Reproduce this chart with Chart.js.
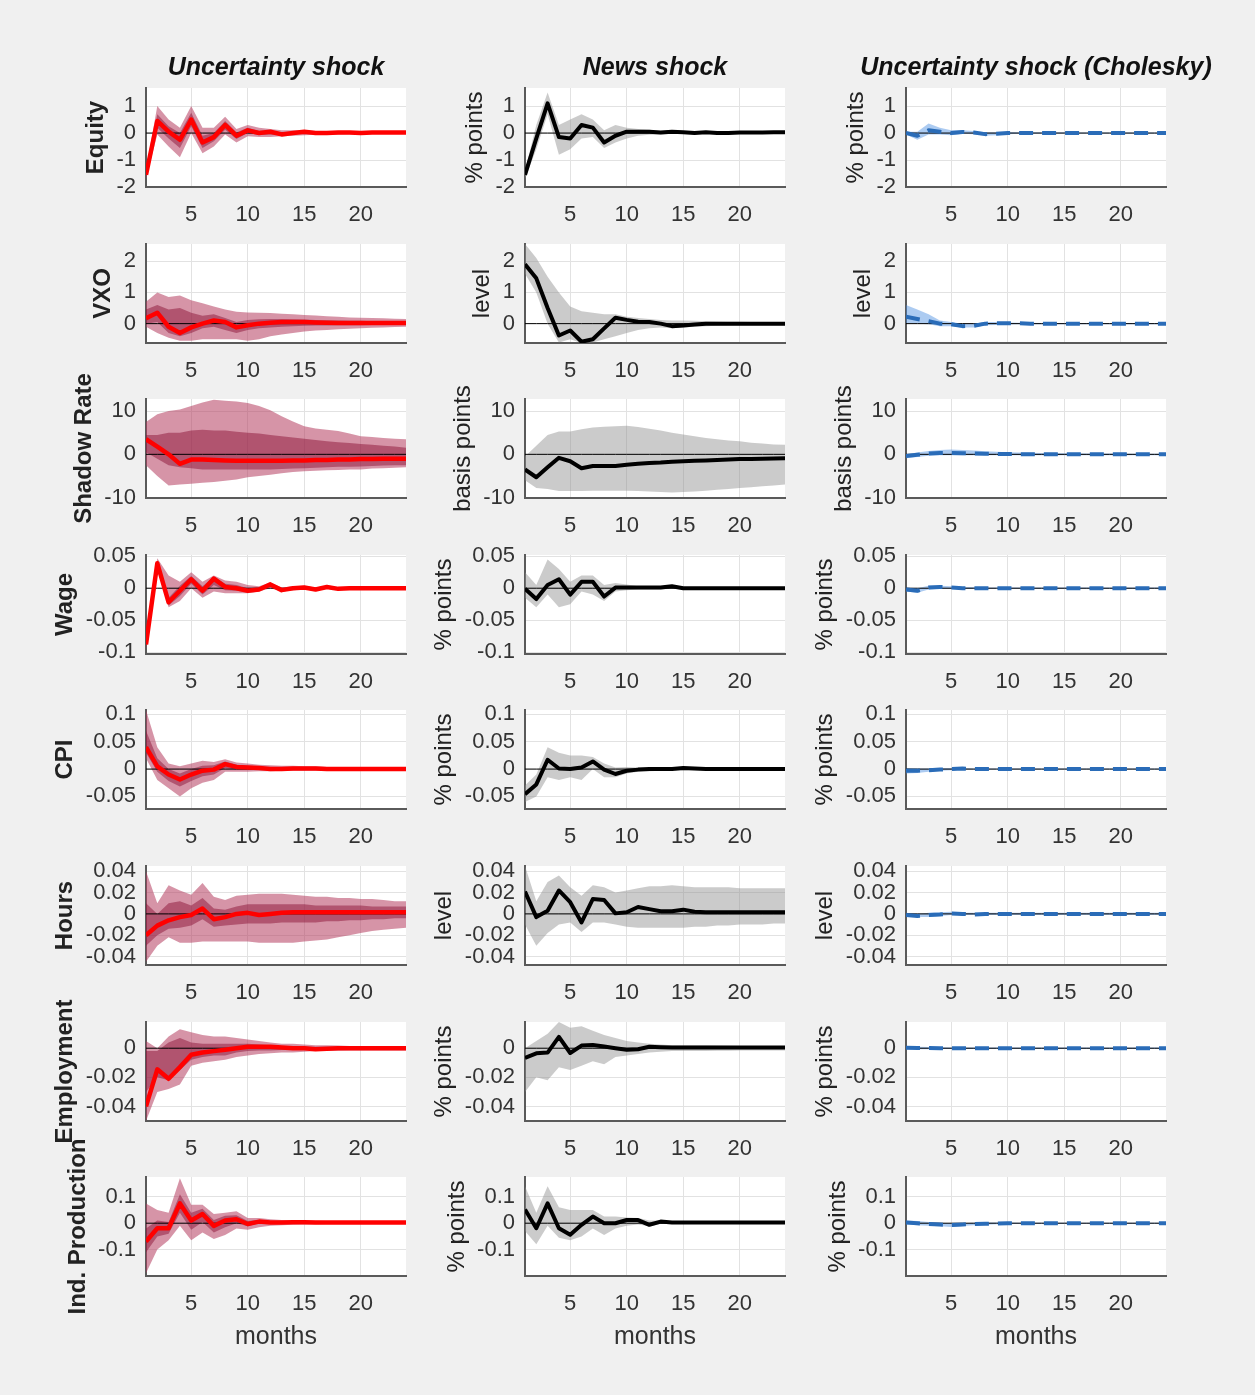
<!DOCTYPE html>
<html>
<head>
<meta charset="utf-8">
<script src="https://cdn.jsdelivr.net/npm/chart.js@4.4.0/dist/chart.umd.min.js"></script>
<style>
  html, body { margin: 0; padding: 0; }
  body { width: 1255px; height: 1395px; background: #f0f0f0; position: relative; overflow: hidden; }
  canvas { position: absolute; }
</style>
</head>
<body>
<script>
// horizon, months after the shock
const months = [1, 2, 3, 4, 5, 6, 7, 8, 9, 10, 11, 12, 13, 14, 15, 16, 17, 18, 19, 20, 21, 22, 23, 24];
const xTicks = [5, 10, 15, 20];

const rowNames = ['Equity', 'VXO', 'Shadow Rate', 'Wage', 'CPI', 'Hours', 'Employment', 'Ind. Production'];
const rowUnits = ['% points', 'level', 'basis points', '% points', '% points', 'level', '% points', '% points'];
const colTitles = ['Uncertainty shock', 'News shock', 'Uncertainty shock (Cholesky)'];
const yLimits = [[-2, 1.67], [-0.62, 2.55], [-10.1, 12.8], [-0.103, 0.052], [-0.073, 0.108], [-0.048, 0.045], [-0.05, 0.018], [-0.2, 0.175]];
const yTicks = [[-2, -1, 0, 1], [0, 1, 2], [-10, 0, 10], [-0.1, -0.05, 0, 0.05], [-0.05, 0, 0.05, 0.1], [-0.04, -0.02, 0, 0.02, 0.04], [-0.04, -0.02, 0], [-0.1, 0, 0.1]];

// --- Equity
const eqU_mid = [-1.55, 0.45, 0.05, -0.25, 0.5, -0.35, -0.15, 0.3, -0.1, 0.1, 0.0, 0.05, -0.05, 0.0, 0.05, 0.0, 0.0, 0.02, 0.02, 0.0, 0.02, 0.02, 0.02, 0.02];
const eqU_olo = [-1.7, -0.05, -0.5, -0.9, 0.0, -0.75, -0.5, -0.05, -0.35, -0.12, -0.15, -0.15, -0.12, -0.1, -0.08, -0.06, -0.05, -0.05, -0.04, -0.04, -0.03, -0.03, -0.03, -0.03];
const eqU_ohi = [-1.35, 1.0, 0.5, 0.2, 1.0, 0.2, 0.2, 0.6, 0.15, 0.3, 0.2, 0.15, 0.1, 0.1, 0.1, 0.08, 0.07, 0.06, 0.06, 0.05, 0.05, 0.05, 0.05, 0.05];
const eqU_ilo = [-1.62, 0.2, -0.2, -0.55, 0.25, -0.55, -0.3, 0.12, -0.22, 0.0, -0.07, -0.05, -0.08, -0.05, -0.02, -0.03, -0.02, -0.01, -0.01, -0.02, -0.01, -0.01, -0.01, -0.01];
const eqU_ihi = [-1.48, 0.7, 0.25, 0.0, 0.75, -0.1, 0.0, 0.45, 0.02, 0.2, 0.08, 0.1, 0.02, 0.05, 0.08, 0.03, 0.03, 0.04, 0.04, 0.03, 0.04, 0.04, 0.04, 0.04];
const eqN_mid = [-1.55, -0.2, 1.1, -0.15, -0.2, 0.3, 0.2, -0.35, -0.1, 0.05, 0.05, 0.05, 0.02, 0.05, 0.03, 0.0, 0.03, 0.0, 0.0, 0.02, 0.02, 0.02, 0.03, 0.03];
const eqN_lo = [-1.7, -0.6, 0.7, -0.8, -0.6, -0.2, -0.15, -0.55, -0.35, -0.2, -0.1, -0.06, -0.05, -0.03, -0.03, -0.04, -0.02, -0.03, -0.03, -0.02, -0.02, -0.02, -0.02, -0.02];
const eqN_hi = [-1.4, 0.3, 1.5, 0.3, 0.5, 0.7, 0.5, 0.1, 0.3, 0.2, 0.15, 0.12, 0.08, 0.1, 0.08, 0.05, 0.06, 0.04, 0.04, 0.05, 0.05, 0.05, 0.06, 0.06];
const eqC_mid = [0.0, -0.1, 0.1, 0.05, 0.0, 0.04, 0.02, -0.04, -0.03, 0.0, 0.0, 0.0, 0.0, 0.0, 0.0, 0.0, 0.0, 0.0, 0.0, 0.0, 0.0, 0.0, 0.0, 0.0];
const eqC_lo = [-0.05, -0.25, -0.05, -0.05, -0.08, -0.03, -0.04, -0.1, -0.08, -0.04, -0.03, -0.03, -0.02, -0.02, -0.02, -0.02, -0.02, -0.02, -0.02, -0.02, -0.02, -0.02, -0.02, -0.02];
const eqC_hi = [0.05, 0.05, 0.35, 0.2, 0.1, 0.1, 0.08, 0.03, 0.03, 0.04, 0.03, 0.03, 0.03, 0.03, 0.03, 0.02, 0.02, 0.02, 0.02, 0.02, 0.02, 0.02, 0.02, 0.02];

// --- VXO
const vxU_mid = [0.17, 0.35, -0.1, -0.3, -0.12, 0.0, 0.1, 0.05, -0.12, -0.05, 0.0, 0.03, 0.05, 0.05, 0.05, 0.04, 0.03, 0.02, 0.02, 0.02, 0.02, 0.02, 0.02, 0.02];
const vxU_olo = [-0.1, -0.3, -0.45, -0.55, -0.55, -0.5, -0.5, -0.5, -0.5, -0.55, -0.5, -0.4, -0.35, -0.3, -0.25, -0.22, -0.2, -0.18, -0.16, -0.15, -0.13, -0.12, -0.11, -0.1];
const vxU_ohi = [0.7, 1.0, 0.85, 0.9, 0.75, 0.65, 0.55, 0.45, 0.38, 0.36, 0.35, 0.34, 0.32, 0.3, 0.28, 0.26, 0.24, 0.22, 0.2, 0.19, 0.18, 0.17, 0.16, 0.15];
const vxU_ilo = [0.0, 0.05, -0.3, -0.4, -0.3, -0.15, -0.1, -0.2, -0.3, -0.2, -0.15, -0.12, -0.1, -0.08, -0.07, -0.06, -0.06, -0.05, -0.05, -0.05, -0.04, -0.04, -0.04, -0.04];
const vxU_ihi = [0.45, 0.6, 0.45, 0.5, 0.35, 0.25, 0.3, 0.18, 0.05, 0.12, 0.14, 0.15, 0.15, 0.14, 0.13, 0.12, 0.11, 0.1, 0.09, 0.09, 0.08, 0.08, 0.08, 0.08];
const vxN_mid = [1.9, 1.45, 0.5, -0.38, -0.22, -0.58, -0.5, -0.15, 0.19, 0.12, 0.06, 0.05, 0.0, -0.08, -0.06, -0.03, 0.0, 0.0, 0.0, 0.0, 0.0, 0.0, 0.0, 0.0];
const vxN_lo = [1.6, 1.0, 0.0, -0.6, -0.5, -0.62, -0.6, -0.5, -0.4, -0.3, -0.2, -0.15, -0.12, -0.15, -0.12, -0.1, -0.08, -0.07, -0.06, -0.05, -0.05, -0.05, -0.05, -0.05];
const vxN_hi = [2.55, 2.1, 1.5, 1.0, 0.55, 0.4, 0.35, 0.3, 0.3, 0.22, 0.18, 0.15, 0.12, 0.1, 0.1, 0.09, 0.08, 0.07, 0.06, 0.06, 0.05, 0.05, 0.05, 0.05];
const vxC_mid = [0.22, 0.15, 0.08, 0.0, -0.02, -0.08, -0.07, 0.0, 0.01, 0.01, 0.01, 0.0, 0.0, 0.0, 0.0, 0.0, 0.0, 0.0, 0.0, 0.0, 0.0, 0.0, 0.0, 0.0];
const vxC_lo = [0.02, 0.0, -0.02, -0.08, -0.08, -0.12, -0.12, -0.05, -0.04, -0.03, -0.02, -0.02, -0.02, -0.02, -0.02, -0.02, -0.02, -0.02, -0.02, -0.02, -0.02, -0.02, -0.02, -0.02];
const vxC_hi = [0.6, 0.45, 0.3, 0.1, 0.05, 0.0, 0.0, 0.05, 0.05, 0.04, 0.03, 0.03, 0.02, 0.02, 0.02, 0.02, 0.02, 0.02, 0.02, 0.02, 0.02, 0.02, 0.02, 0.02];

// --- Shadow rate
const shU_mid = [3.5, 1.8, 0.0, -2.2, -1.2, -1.2, -1.3, -1.4, -1.5, -1.5, -1.5, -1.5, -1.5, -1.4, -1.4, -1.3, -1.3, -1.2, -1.2, -1.1, -1.1, -1.0, -1.0, -1.0];
const shU_olo = [-2.5, -5.0, -7.2, -7.0, -6.8, -6.6, -6.4, -6.1, -5.8, -5.3, -5.0, -4.7, -4.4, -4.1, -3.9, -3.8, -3.7, -3.6, -3.5, -3.5, -3.3, -3.2, -3.1, -3.0];
const shU_ohi = [7.5, 9.3, 10.0, 10.4, 11.2, 12.0, 12.6, 12.4, 12.2, 11.9, 11.2, 10.2, 8.8, 7.6, 6.5, 6.0, 5.7, 5.4, 4.8, 4.2, 4.0, 3.8, 3.6, 3.5];
const shU_ilo = [0.5, -1.0, -2.5, -3.0, -3.2, -3.5, -3.5, -3.5, -3.5, -3.5, -3.5, -3.5, -3.4, -3.3, -3.2, -3.1, -3.0, -2.9, -2.9, -2.8, -2.7, -2.6, -2.5, -2.5];
const shU_ihi = [4.5, 4.5, 5.0, 5.0, 5.5, 5.7, 5.5, 5.5, 5.2, 5.0, 4.8, 4.5, 4.2, 3.9, 3.6, 3.3, 3.0, 2.8, 2.6, 2.4, 2.2, 2.0, 1.8, 1.5];
const shN_mid = [-3.5, -5.3, -3.0, -0.8, -1.6, -3.2, -2.7, -2.7, -2.7, -2.4, -2.2, -2.0, -1.9, -1.7, -1.6, -1.5, -1.4, -1.3, -1.2, -1.1, -1.05, -1.0, -0.95, -0.9];
const shN_lo = [-6.0, -7.8, -8.0, -8.5, -8.5, -8.5, -8.4, -8.4, -8.4, -8.4, -8.5, -8.6, -8.7, -8.8, -8.7, -8.6, -8.4, -8.2, -8.0, -7.8, -7.6, -7.4, -7.2, -7.0];
const shN_hi = [-0.5, 2.0, 4.5, 5.3, 5.3, 5.8, 6.2, 6.4, 6.5, 6.6, 6.3, 5.9, 5.5, 5.0, 4.6, 4.2, 3.8, 3.5, 3.2, 3.0, 2.7, 2.5, 2.3, 2.2];
const shC_mid = [-0.4, -0.1, 0.2, 0.3, 0.3, 0.25, 0.2, 0.15, 0.1, 0.05, 0.05, 0.03, 0.0, 0.0, 0.0, 0.0, 0.0, 0.0, 0.0, 0.0, 0.0, 0.0, 0.0, 0.0];
const shC_lo = [-0.9, -0.6, -0.3, -0.2, -0.2, -0.2, -0.2, -0.2, -0.2, -0.2, -0.2, -0.2, -0.2, -0.2, -0.2, -0.2, -0.2, -0.2, -0.2, -0.2, -0.2, -0.2, -0.2, -0.2];
const shC_hi = [0.0, 0.4, 0.8, 1.0, 1.1, 1.0, 0.9, 0.7, 0.6, 0.5, 0.4, 0.35, 0.3, 0.3, 0.25, 0.25, 0.2, 0.2, 0.2, 0.2, 0.15, 0.15, 0.15, 0.15];

// --- Wage
const wgU_mid = [-0.088, 0.039, -0.022, -0.004, 0.014, -0.004, 0.015, 0.002, 0.0, -0.004, -0.002, 0.006, -0.003, 0.0, 0.001, -0.002, 0.002, -0.001, 0.0, 0.0, 0.0, 0.0, 0.0, 0.0];
const wgU_olo = [-0.096, 0.03, -0.03, -0.02, 0.0, -0.015, -0.005, -0.008, -0.008, -0.008, -0.005, 0.0, -0.005, -0.003, -0.002, -0.004, -0.001, -0.003, -0.002, -0.002, -0.002, -0.002, -0.002, -0.002];
const wgU_ohi = [-0.08, 0.047, 0.02, 0.01, 0.025, 0.01, 0.02, 0.012, 0.01, 0.005, 0.003, 0.009, 0.001, 0.003, 0.004, 0.001, 0.004, 0.002, 0.002, 0.002, 0.002, 0.002, 0.002, 0.002];
const wgU_ilo = [-0.092, 0.034, -0.027, -0.012, 0.007, -0.01, 0.005, -0.003, -0.004, -0.006, -0.004, 0.003, -0.004, -0.002, -0.001, -0.003, 0.0, -0.002, -0.001, -0.001, -0.001, -0.001, -0.001, -0.001];
const wgU_ihi = [-0.084, 0.043, -0.015, 0.004, 0.019, 0.003, 0.018, 0.007, 0.005, 0.0, 0.001, 0.008, -0.001, 0.002, 0.002, 0.0, 0.003, 0.001, 0.001, 0.001, 0.001, 0.001, 0.001, 0.001];
const wgN_mid = [-0.001, -0.017, 0.005, 0.014, -0.01, 0.01, 0.01, -0.013, 0.001, 0.001, 0.001, 0.001, 0.001, 0.003, 0.0, 0.0, 0.0, 0.0, 0.0, 0.0, 0.0, 0.0, 0.0, 0.0];
const wgN_lo = [-0.015, -0.03, -0.01, -0.03, -0.025, -0.005, -0.01, -0.02, -0.005, -0.003, -0.002, -0.002, -0.002, -0.001, -0.002, -0.002, -0.002, -0.002, -0.002, -0.002, -0.002, -0.002, -0.002, -0.002];
const wgN_hi = [0.025, 0.005, 0.045, 0.03, 0.01, 0.02, 0.02, 0.005, 0.008, 0.006, 0.003, 0.003, 0.003, 0.005, 0.002, 0.002, 0.002, 0.002, 0.002, 0.002, 0.002, 0.002, 0.002, 0.002];
const wgC_mid = [-0.002, -0.004, 0.001, 0.002, 0.001, 0.0, 0.0, 0.0, 0.0, 0.0, 0.0, 0.0, 0.0, 0.0, 0.0, 0.0, 0.0, 0.0, 0.0, 0.0, 0.0, 0.0, 0.0, 0.0];
const wgC_lo = [-0.005, -0.007, -0.002, -0.001, -0.001, -0.001, -0.001, -0.001, -0.001, -0.001, -0.001, -0.001, -0.001, -0.001, -0.001, -0.001, -0.001, -0.001, -0.001, -0.001, -0.001, -0.001, -0.001, -0.001];
const wgC_hi = [0.001, 0.0, 0.004, 0.004, 0.003, 0.002, 0.002, 0.001, 0.001, 0.001, 0.001, 0.001, 0.001, 0.001, 0.001, 0.001, 0.001, 0.001, 0.001, 0.001, 0.001, 0.001, 0.001, 0.001];

// --- CPI
const cpU_mid = [0.04, 0.005, -0.01, -0.019, -0.01, -0.003, -0.001, 0.009, 0.004, 0.003, 0.002, 0.0, 0.0, 0.001, 0.001, 0.001, 0.0, 0.0, 0.0, 0.0, 0.0, 0.0, 0.0, 0.0];
const cpU_olo = [0.02, -0.02, -0.035, -0.05, -0.035, -0.025, -0.02, -0.005, -0.005, -0.005, -0.004, -0.004, -0.003, -0.003, -0.003, -0.003, -0.002, -0.002, -0.002, -0.002, -0.002, -0.002, -0.002, -0.002];
const cpU_ohi = [0.108, 0.04, 0.01, 0.005, 0.01, 0.015, 0.013, 0.018, 0.012, 0.01, 0.008, 0.007, 0.006, 0.006, 0.005, 0.005, 0.004, 0.004, 0.003, 0.003, 0.003, 0.002, 0.002, 0.002];
const cpU_ilo = [0.03, -0.005, -0.022, -0.032, -0.022, -0.013, -0.01, 0.002, -0.001, -0.001, -0.001, -0.002, -0.001, -0.001, -0.001, -0.001, -0.001, -0.001, -0.001, -0.001, -0.001, -0.001, -0.001, -0.001];
const cpU_ihi = [0.07, 0.02, 0.0, -0.008, 0.0, 0.006, 0.007, 0.014, 0.008, 0.006, 0.005, 0.003, 0.003, 0.003, 0.003, 0.002, 0.002, 0.001, 0.001, 0.001, 0.001, 0.001, 0.001, 0.001];
const cpN_mid = [-0.046, -0.028, 0.017, 0.001, 0.0, 0.003, 0.014, -0.001, -0.009, -0.003, -0.001, 0.0, 0.0, 0.0, 0.002, 0.001, 0.0, 0.0, 0.0, 0.0, 0.0, 0.0, 0.0, 0.0];
const cpN_lo = [-0.06, -0.05, -0.015, -0.02, -0.015, -0.02, 0.0, -0.015, -0.015, -0.008, -0.005, -0.004, -0.003, -0.003, -0.002, -0.002, -0.002, -0.002, -0.001, -0.001, -0.001, -0.001, -0.001, -0.001];
const cpN_hi = [-0.03, -0.01, 0.04, 0.03, 0.025, 0.025, 0.022, 0.01, 0.003, 0.004, 0.003, 0.003, 0.003, 0.003, 0.004, 0.003, 0.002, 0.002, 0.002, 0.001, 0.001, 0.001, 0.001, 0.001];
const cpC_mid = [-0.003, -0.003, -0.002, -0.001, 0.0, 0.001, 0.0, 0.0, 0.0, 0.0, 0.0, 0.0, 0.0, 0.0, 0.0, 0.0, 0.0, 0.0, 0.0, 0.0, 0.0, 0.0, 0.0, 0.0];
const cpC_lo = [-0.008, -0.007, -0.005, -0.003, -0.002, -0.001, -0.001, -0.001, -0.001, -0.001, -0.001, -0.001, -0.001, -0.001, -0.001, -0.001, -0.001, -0.001, -0.001, -0.001, -0.001, -0.001, -0.001, -0.001];
const cpC_hi = [0.002, 0.001, 0.001, 0.002, 0.002, 0.002, 0.001, 0.001, 0.001, 0.001, 0.001, 0.001, 0.001, 0.001, 0.001, 0.001, 0.001, 0.001, 0.001, 0.001, 0.001, 0.001, 0.001, 0.001];

// --- Hours
const hrU_mid = [-0.02, -0.011, -0.006, -0.003, -0.001, 0.005, -0.005, -0.003, 0.0, 0.001, -0.001, 0.0, 0.001, 0.0015, 0.0015, 0.0015, 0.0015, 0.0015, 0.0015, 0.0015, 0.0015, 0.0015, 0.0015, 0.0015];
const hrU_olo = [-0.045, -0.03, -0.022, -0.027, -0.027, -0.026, -0.026, -0.026, -0.026, -0.026, -0.027, -0.027, -0.027, -0.027, -0.026, -0.025, -0.024, -0.022, -0.02, -0.018, -0.016, -0.015, -0.014, -0.013];
const hrU_ohi = [0.04, 0.01, 0.027, 0.022, 0.018, 0.029, 0.016, 0.013, 0.017, 0.018, 0.019, 0.019, 0.019, 0.018, 0.017, 0.016, 0.016, 0.015, 0.015, 0.014, 0.014, 0.013, 0.012, 0.012];
const hrU_ilo = [-0.03, -0.02, -0.014, -0.013, -0.011, -0.005, -0.012, -0.011, -0.01, -0.009, -0.009, -0.009, -0.008, -0.008, -0.008, -0.008, -0.007, -0.007, -0.006, -0.006, -0.005, -0.005, -0.004, -0.004];
const hrU_ihi = [0.01, 0.0, 0.01, 0.012, 0.008, 0.015, 0.005, 0.004, 0.007, 0.009, 0.009, 0.009, 0.009, 0.009, 0.009, 0.008, 0.008, 0.008, 0.008, 0.008, 0.007, 0.007, 0.007, 0.007];
const hrN_mid = [0.021, -0.003, 0.003, 0.022, 0.011, -0.008, 0.014, 0.013, 0.0005, 0.0015, 0.0065, 0.0045, 0.0025, 0.0025, 0.004, 0.002, 0.0015, 0.0015, 0.0015, 0.0015, 0.0015, 0.0015, 0.0015, 0.0015];
const hrN_lo = [-0.01, -0.03, -0.018, -0.01, -0.008, -0.017, -0.008, -0.008, -0.01, -0.012, -0.013, -0.013, -0.013, -0.013, -0.013, -0.012, -0.012, -0.011, -0.011, -0.01, -0.01, -0.01, -0.009, -0.009];
const hrN_hi = [0.045, 0.012, 0.03, 0.036, 0.025, 0.017, 0.027, 0.025, 0.02, 0.022, 0.024, 0.026, 0.026, 0.027, 0.026, 0.025, 0.025, 0.025, 0.025, 0.024, 0.024, 0.024, 0.024, 0.024];
const hrC_mid = [-0.001, -0.002, -0.001, -0.0005, 0.0005, 0.0, -0.0005, 0.0, 0.0, 0.0, 0.0, 0.0, 0.0, 0.0, 0.0, 0.0, 0.0, 0.0, 0.0, 0.0, 0.0, 0.0, 0.0, 0.0];
const hrC_lo = [-0.003, -0.003, -0.003, -0.002, -0.001, -0.001, -0.001, -0.001, -0.001, -0.001, -0.001, -0.001, -0.001, -0.001, -0.001, -0.001, -0.001, -0.001, -0.001, -0.001, -0.001, -0.001, -0.001, -0.001];
const hrC_hi = [0.001, 0.0, 0.001, 0.0015, 0.002, 0.001, 0.001, 0.001, 0.001, 0.001, 0.001, 0.001, 0.001, 0.001, 0.001, 0.001, 0.001, 0.001, 0.001, 0.001, 0.001, 0.001, 0.001, 0.001];

// --- Employment
const emU_mid = [-0.04, -0.0145, -0.021, -0.013, -0.0045, -0.003, -0.002, -0.001, 0.0, 0.001, 0.001, 0.001, 0.0005, 0.0, 0.0, -0.0007, -0.0004, 0.0, 0.0, 0.0, 0.0, 0.0, 0.0, 0.0];
const emU_olo = [-0.05, -0.03, -0.028, -0.025, -0.012, -0.01, -0.009, -0.008, -0.006, -0.005, -0.004, -0.0035, -0.003, -0.003, -0.0025, -0.002, -0.002, -0.0018, -0.0016, -0.0015, -0.0015, -0.0015, -0.0015, -0.0015];
const emU_ohi = [0.005, 0.0, 0.008, 0.013, 0.011, 0.009, 0.008, 0.008, 0.007, 0.006, 0.005, 0.004, 0.003, 0.003, 0.0025, 0.002, 0.002, 0.0018, 0.0016, 0.0015, 0.0015, 0.0015, 0.0015, 0.0015];
const emU_ilo = [-0.03, -0.02, -0.022, -0.015, -0.008, -0.006, -0.005, -0.005, -0.003, -0.002, -0.0015, -0.0015, -0.0012, -0.0012, -0.001, -0.001, -0.001, -0.001, -0.0008, -0.0008, -0.0008, -0.0008, -0.0008, -0.0008];
const emU_ihi = [-0.002, -0.002, 0.004, 0.007, 0.004, 0.003, 0.003, 0.003, 0.003, 0.003, 0.0025, 0.002, 0.0015, 0.0012, 0.001, 0.001, 0.001, 0.001, 0.0008, 0.0008, 0.0008, 0.0008, 0.0008, 0.0008];
const emN_mid = [-0.0067, -0.0035, -0.003, 0.0078, -0.0033, 0.0018, 0.0022, 0.0011, 0.0, -0.001, -0.0007, 0.001, 0.0007, 0.0005, 0.0005, 0.0005, 0.0005, 0.0005, 0.0005, 0.0005, 0.0005, 0.0005, 0.0005, 0.0005];
const emN_lo = [-0.03, -0.02, -0.022, -0.013, -0.015, -0.012, -0.009, -0.011, -0.006, -0.005, -0.004, -0.003, -0.0025, -0.002, -0.002, -0.002, -0.002, -0.0018, -0.0017, -0.0016, -0.0015, -0.0015, -0.0015, -0.0015];
const emN_hi = [0.0, 0.005, 0.01, 0.018, 0.014, 0.015, 0.012, 0.009, 0.007, 0.005, 0.004, 0.003, 0.0025, 0.002, 0.002, 0.002, 0.002, 0.0018, 0.0017, 0.0016, 0.0015, 0.0015, 0.0015, 0.0015];
const emC_mid = [0.0003, 0.0002, 0.0001, 0.0, 0.0, 0.0, 0.0, 0.0, 0.0, 0.0, 0.0, 0.0, 0.0, 0.0, 0.0, 0.0, 0.0, 0.0, 0.0, 0.0, 0.0, 0.0, 0.0, 0.0];
const emC_lo = [-0.0008, -0.0008, -0.0007, -0.0006, -0.0005, -0.0005, -0.0005, -0.0005, -0.0005, -0.0005, -0.0005, -0.0005, -0.0005, -0.0005, -0.0005, -0.0005, -0.0005, -0.0005, -0.0005, -0.0005, -0.0005, -0.0005, -0.0005, -0.0005];
const emC_hi = [0.001, 0.001, 0.0008, 0.0006, 0.0005, 0.0005, 0.0005, 0.0005, 0.0005, 0.0005, 0.0005, 0.0005, 0.0005, 0.0005, 0.0005, 0.0005, 0.0005, 0.0005, 0.0005, 0.0005, 0.0005, 0.0005, 0.0005, 0.0005];

// --- Industrial production
const ipU_mid = [-0.069, -0.019, -0.019, 0.075, 0.01, 0.035, -0.01, 0.01, 0.015, -0.003, 0.006, 0.003, 0.003, 0.004, 0.004, 0.003, 0.003, 0.003, 0.003, 0.003, 0.003, 0.003, 0.003, 0.003];
const ipU_olo = [-0.19, -0.1, -0.065, -0.01, -0.065, -0.035, -0.06, -0.045, -0.02, -0.025, -0.015, -0.01, -0.008, -0.006, -0.005, -0.004, -0.003, -0.003, -0.003, -0.003, -0.003, -0.003, -0.003, -0.003];
const ipU_ohi = [0.075, 0.05, 0.04, 0.17, 0.07, 0.07, 0.035, 0.04, 0.045, 0.02, 0.02, 0.015, 0.012, 0.01, 0.01, 0.009, 0.008, 0.008, 0.007, 0.007, 0.007, 0.006, 0.006, 0.006];
const ipU_ilo = [-0.11, -0.05, -0.04, 0.04, -0.025, 0.005, -0.035, -0.015, 0.0, -0.012, 0.0, -0.002, -0.002, 0.0, 0.0, 0.0, 0.0, 0.0, 0.0, 0.0, 0.0, 0.0, 0.0, 0.0];
const ipU_ihi = [-0.02, 0.01, 0.005, 0.11, 0.04, 0.055, 0.012, 0.028, 0.03, 0.008, 0.012, 0.008, 0.007, 0.007, 0.007, 0.006, 0.006, 0.006, 0.005, 0.005, 0.005, 0.005, 0.005, 0.005];
const ipN_mid = [0.052, -0.019, 0.075, -0.019, -0.044, -0.006, 0.025, 0.0, 0.0, 0.012, 0.012, -0.006, 0.006, 0.003, 0.003, 0.003, 0.003, 0.003, 0.003, 0.003, 0.003, 0.003, 0.003, 0.003];
const ipN_lo = [-0.03, -0.08, -0.01, -0.055, -0.065, -0.05, -0.02, -0.045, -0.02, -0.01, -0.005, -0.012, -0.003, -0.002, -0.001, 0.0, 0.0, 0.0, 0.0, 0.0, 0.0, 0.0, 0.0, 0.0];
const ipN_hi = [0.14, 0.04, 0.14, 0.06, 0.05, 0.05, 0.05, 0.025, 0.025, 0.022, 0.02, 0.01, 0.01, 0.007, 0.005, 0.005, 0.005, 0.005, 0.005, 0.005, 0.005, 0.005, 0.005, 0.005];
const ipC_mid = [0.003, 0.0, -0.003, -0.005, -0.007, -0.005, -0.003, -0.002, -0.001, 0.0, 0.0, 0.0, 0.0, 0.0, 0.0, 0.0, 0.0, 0.0, 0.0, 0.0, 0.0, 0.0, 0.0, 0.0];
const ipC_lo = [-0.004, -0.008, -0.01, -0.012, -0.014, -0.011, -0.008, -0.006, -0.004, -0.003, -0.002, -0.002, -0.002, -0.002, -0.002, -0.002, -0.002, -0.002, -0.002, -0.002, -0.002, -0.002, -0.002, -0.002];
const ipC_hi = [0.01, 0.008, 0.005, 0.002, 0.0, 0.0, 0.002, 0.003, 0.003, 0.003, 0.002, 0.002, 0.002, 0.002, 0.002, 0.002, 0.002, 0.002, 0.002, 0.002, 0.002, 0.002, 0.002, 0.002];

// panel table: [row][col] -> series
const panels = [
  [{mid: eqU_mid, bands: [[eqU_olo, eqU_ohi], [eqU_ilo, eqU_ihi]]}, {mid: eqN_mid, bands: [[eqN_lo, eqN_hi]]}, {mid: eqC_mid, bands: [[eqC_lo, eqC_hi]]}],
  [{mid: vxU_mid, bands: [[vxU_olo, vxU_ohi], [vxU_ilo, vxU_ihi]]}, {mid: vxN_mid, bands: [[vxN_lo, vxN_hi]]}, {mid: vxC_mid, bands: [[vxC_lo, vxC_hi]]}],
  [{mid: shU_mid, bands: [[shU_olo, shU_ohi], [shU_ilo, shU_ihi]]}, {mid: shN_mid, bands: [[shN_lo, shN_hi]]}, {mid: shC_mid, bands: [[shC_lo, shC_hi]]}],
  [{mid: wgU_mid, bands: [[wgU_olo, wgU_ohi], [wgU_ilo, wgU_ihi]]}, {mid: wgN_mid, bands: [[wgN_lo, wgN_hi]]}, {mid: wgC_mid, bands: [[wgC_lo, wgC_hi]]}],
  [{mid: cpU_mid, bands: [[cpU_olo, cpU_ohi], [cpU_ilo, cpU_ihi]]}, {mid: cpN_mid, bands: [[cpN_lo, cpN_hi]]}, {mid: cpC_mid, bands: [[cpC_lo, cpC_hi]]}],
  [{mid: hrU_mid, bands: [[hrU_olo, hrU_ohi], [hrU_ilo, hrU_ihi]]}, {mid: hrN_mid, bands: [[hrN_lo, hrN_hi]]}, {mid: hrC_mid, bands: [[hrC_lo, hrC_hi]]}],
  [{mid: emU_mid, bands: [[emU_olo, emU_ohi], [emU_ilo, emU_ihi]]}, {mid: emN_mid, bands: [[emN_lo, emN_hi]]}, {mid: emC_mid, bands: [[emC_lo, emC_hi]]}],
  [{mid: ipU_mid, bands: [[ipU_olo, ipU_ohi], [ipU_ilo, ipU_ihi]]}, {mid: ipN_mid, bands: [[ipN_lo, ipN_hi]]}, {mid: ipC_mid, bands: [[ipC_lo, ipC_hi]]}]
];

// styles per column
const lineColors = ['#ff0000', '#000000', '#2a6cb8'];
const lineWidths = [4.5, 4, 4];
const lineDash = [[], [], [14, 9]];
const bandColors = [
  ['rgba(180,60,95,0.55)', 'rgba(140,20,55,0.5)'],
  ['rgba(140,140,140,0.45)'],
  ['rgba(70,140,225,0.45)']
];

// layout (pixels)
const plotLeft = [146, 525, 906];
const plotW = 260, plotH = 99;
const plotTop0 = 88, rowStep = 155.6;
const LM = 140, TM = 45, RM = 80, BM = 62, BM_last = 80;

const FONT = "'Liberation Sans', Arial, Helvetica, sans-serif";
const tickFont = {family: FONT, size: 22};
const tickColor = '#333333';
const zeroLine = months.map(() => 0);

const labelPlugin = {
  id: 'panelText',
  beforeDraw(chart) {
    const {ctx, chartArea: a} = chart;
    ctx.save();
    ctx.fillStyle = '#ffffff';
    ctx.fillRect(a.left, a.top, a.right - a.left, a.bottom - a.top);
    ctx.restore();
  },
  afterDraw(chart, args, opts) {
    const {ctx, chartArea: a} = chart;
    const yScale = chart.scales.y;
    ctx.save();
    ctx.font = '22px ' + FONT;
    let tw = 0;
    yScale.ticks.forEach(t => { tw = Math.max(tw, ctx.measureText(String(t.value)).width); });
    ctx.translate(a.left - 10 - tw - 20, (a.top + a.bottom) / 2);
    ctx.rotate(-Math.PI / 2);
    ctx.font = (opts.bold ? 'bold ' : '') + '24px ' + FONT;
    ctx.fillStyle = '#222222';
    ctx.textAlign = 'center';
    ctx.textBaseline = 'middle';
    ctx.fillText(opts.label, 0, 0);
    ctx.restore();
    if (opts.title) {
      ctx.save();
      ctx.font = 'italic bold 25px ' + FONT;
      ctx.fillStyle = '#111111';
      ctx.textAlign = 'center';
      ctx.textBaseline = 'middle';
      ctx.fillText(opts.title, (a.left + a.right) / 2, a.top - 20);
      ctx.restore();
    }
  }
};

for (let r = 0; r < 8; r++) {
  for (let c = 0; c < 3; c++) {
    const p = panels[r][c];
    const top = Math.round(plotTop0 + rowStep * r);
    const bm = r === 7 ? BM_last : BM;
    const cv = document.createElement('canvas');
    const w = LM + plotW + RM, h = TM + plotH + bm;
    cv.width = w; cv.height = h;
    cv.style.left = (plotLeft[c] - LM) + 'px';
    cv.style.top = (top - TM) + 'px';
    cv.style.width = w + 'px'; cv.style.height = h + 'px';
    document.body.appendChild(cv);

    const datasets = [];
    p.bands.forEach((b, k) => {
      const ord = 10 - k;
      datasets.push({data: b[0], borderWidth: 0, pointRadius: 0, fill: false, order: ord});
      datasets.push({data: b[1], borderWidth: 0, pointRadius: 0, fill: '-1', backgroundColor: bandColors[c][k], order: ord});
    });
    datasets.push({data: zeroLine, borderColor: '#000000', borderWidth: 1, pointRadius: 0, fill: false, order: 2});
    datasets.push({data: p.mid, borderColor: lineColors[c], borderWidth: lineWidths[c], borderDash: lineDash[c],
      pointRadius: 0, fill: false, order: 0, borderJoinStyle: 'round', borderCapStyle: 'butt'});

    new Chart(cv, {
      type: 'line',
      data: {labels: months, datasets},
      options: {
        responsive: false,
        animation: false,
        devicePixelRatio: 1,
        layout: {padding: {top: TM, right: RM, left: 0, bottom: 0}},
        plugins: {
          legend: {display: false},
          tooltip: {enabled: false},
          panelText: {label: c === 0 ? rowNames[r] : rowUnits[r], bold: c === 0, title: r === 0 ? colTitles[c] : null}
        },
        scales: {
          x: {
            type: 'linear', min: 1, max: 24,
            afterBuildTicks: s => { s.ticks = xTicks.map(v => ({value: v})); },
            afterFit: s => { s.height = bm; },
            grid: {color: '#e2e2e2', lineWidth: 1, drawTicks: false},
            border: {color: '#5a5a5a', width: 2},
            ticks: {font: tickFont, color: tickColor, padding: 15, autoSkip: false, maxRotation: 0},
            title: {display: r === 7, text: 'months', color: '#333333', font: {family: FONT, size: 25, lineHeight: 1.2}, padding: {top: 0, bottom: 4}}
          },
          y: {
            min: yLimits[r][0], max: yLimits[r][1],
            afterBuildTicks: s => { s.ticks = yTicks[r].map(v => ({value: v})); },
            afterFit: s => { s.width = LM; },
            grid: {color: '#e2e2e2', lineWidth: 1, drawTicks: false},
            border: {color: '#5a5a5a', width: 2},
            ticks: {font: tickFont, color: tickColor, padding: 10, autoSkip: false, callback: v => String(v)}
          }
        }
      },
      plugins: [labelPlugin]
    });
  }
}
</script>
</body>
</html>
